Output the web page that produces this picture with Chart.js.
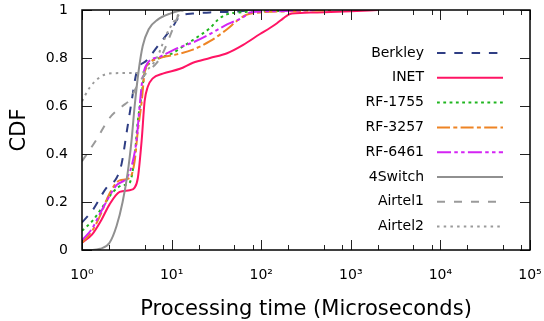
<!DOCTYPE html>
<html><head><meta charset="utf-8">
<script src="https://cdn.jsdelivr.net/npm/chart.js@4/dist/chart.umd.min.js"></script>
<style>html,body{margin:0;padding:0;background:#fff}#wrap{width:544px;height:321px}</style>
</head><body><div id="wrap"><canvas id="c" width="544" height="321"></canvas></div>
<script>
// ---- data ----
const seriesNames = ["Berkley","INET","RF-1755","RF-3257","RF-6461","4Switch","Airtel1","Airtel2"];
const xTickValues = [1,10,100,1000,10000,100000];
const xTickLabels = ["10\u2070","10\u00b9","10\u00b2","10\u00b3","10\u2074","10\u2075"];
const yTickValues = [0,0.2,0.4,0.6,0.8,1];
const yTickLabels = ["0","0.2","0.4","0.6","0.8","1"];

const berkleyX = [1,1.31,1.88,2.43,2.77,3.15,3.58,4.07,5.27,7.37,10.3,12.4,17.3,26.8,41.6,94];
const berkleyY = [0.115,0.165,0.26,0.30,0.36,0.49,0.62,0.74,0.79,0.86,0.93,0.975,0.985,0.99,0.992,1.0];

const inetX = [1,1.3,1.64,2.03,2.63,3.4,3.87,4.2,4.64,5.0,5.42,6.16,7.97,12.4,17.3,26.8,41.6,63,97,125,150,176,200,220,420,1000,2000];
const inetY = [0.03,0.065,0.124,0.19,0.242,0.249,0.26,0.30,0.46,0.62,0.68,0.715,0.735,0.755,0.78,0.80,0.82,0.855,0.90,0.925,0.945,0.965,0.98,0.985,0.99,0.995,1.0];

const rf1755X = [1,1.3,1.7,2.2,2.84,3.4,3.87,4.18,4.64,5.0,5.7,7.37,10.3,12.4,17.3,26.8,33,40,57,125,300];
const rf1755Y = [0.08,0.12,0.18,0.24,0.27,0.28,0.39,0.53,0.65,0.74,0.78,0.80,0.82,0.84,0.875,0.925,0.96,0.98,0.99,0.995,1.0];

const rf3257X = [1,1.3,1.58,2.03,2.63,3.4,3.87,4.18,4.64,5.0,5.7,7.37,11.4,17.3,26.8,41.6,53.7,68,97,228,600];
const rf3257Y = [0.03,0.08,0.14,0.235,0.29,0.30,0.37,0.49,0.62,0.74,0.78,0.80,0.815,0.835,0.87,0.92,0.955,0.98,0.99,0.995,1.0];

const rf6461X = [1,1.3,1.58,2.43,3.15,3.58,4.07,4.4,4.76,5.42,7.37,11.4,17.3,26.8,41.6,63,75,150,400];
const rf6461Y = [0.04,0.09,0.15,0.27,0.30,0.35,0.46,0.60,0.72,0.78,0.805,0.84,0.865,0.90,0.94,0.97,0.99,0.995,1.0];

const switchX = [1,1.31,1.6,2.03,2.43,2.84,3.23,3.58,3.87,4.3,4.76,5.55,7.0,9.6,14,100];
const switchY = [0,0,0.005,0.03,0.1,0.2,0.32,0.46,0.6,0.75,0.85,0.92,0.96,0.985,1.0,1.0];

const airtel1X = [1,1.45,2.03,2.84,3.4,4.07,5.27,6.83,7.97,9.55,10.8,12.4,14,100];
const airtel1Y = [0.37,0.46,0.55,0.60,0.625,0.68,0.74,0.78,0.82,0.89,0.94,0.99,1.0,1.0];

const airtel2X = [1,1.21,1.58,2.0,2.6,4.4,5.3,6.83,8.8,11.4,12.4,14,100];
const airtel2Y = [0.62,0.675,0.72,0.735,0.737,0.737,0.75,0.80,0.90,0.97,0.99,1.0,1.0];

const seriesX = [berkleyX,inetX,rf1755X,rf3257X,rf6461X,switchX,airtel1X,airtel2X];
const seriesY = [berkleyY,inetY,rf1755Y,rf3257Y,rf6461Y,switchY,airtel1Y,airtel2Y];

// ---- styles ----
const colors = ["#2f3e84","#ff1464","#1fb51f","#ee8424","#d424f4","#909090","#9a9a9a","#9a9a9a"];
const dashes = [[8.5,8.8],[],[2.8,3.5],[13,3.3,4,3.3],[14,3.3,3.5,3.3,3.5,3.3],[],[8,9],[2.5,4.2]];
const FONT = "'DejaVu Sans', sans-serif";

const datasets = seriesNames.map((name,i)=>({
  label:name,
  data: seriesX[i].map((x,j)=>({x:x,y:seriesY[i][j]})),
  borderColor:colors[i], backgroundColor:colors[i],
  borderDash:dashes[i], borderWidth:2, pointRadius:0,
  cubicInterpolationMode:'monotone', fill:false,
  order: seriesNames.length - i
}));

const frameAndTicks = {
  id:'frameAndTicks',
  afterDatasetsDraw(chart){
    const {ctx, chartArea:a, scales:{x,y}} = chart;
    ctx.save();
    ctx.strokeStyle = '#222'; ctx.lineWidth = 1; ctx.setLineDash([]);
    ctx.beginPath();
    yTickValues.forEach(v=>{
      const py = Math.round(y.getPixelForValue(v))+0.5;
      ctx.moveTo(a.left, py); ctx.lineTo(a.left+10, py);
      ctx.moveTo(a.right, py); ctx.lineTo(a.right-10, py);
    });
    xTickValues.forEach((v,k)=>{
      const px = Math.round(x.getPixelForValue(v))+0.5;
      ctx.moveTo(px, a.bottom); ctx.lineTo(px, a.bottom-10);
      ctx.moveTo(px, a.top); ctx.lineTo(px, a.top+10);
      if (k < xTickValues.length-1) {
        [2,5,8].forEach(m=>{
          const pm = Math.round(x.getPixelForValue(v*m))+0.5;
          ctx.moveTo(pm, a.bottom); ctx.lineTo(pm, a.bottom-5);
          ctx.moveTo(pm, a.top); ctx.lineTo(pm, a.top+5);
        });
      }
    });
    ctx.stroke();
    ctx.strokeStyle = '#000'; ctx.lineWidth = 1.5;
    ctx.strokeRect(a.left, a.top, a.right-a.left, a.bottom-a.top);
    ctx.restore();
  },
  afterDraw(chart){
    const ctx = chart.ctx;
    ctx.save();
    ctx.font = "14px " + FONT;
    ctx.textAlign = 'right'; ctx.textBaseline = 'middle';
    chart.data.datasets.forEach((ds,i)=>{
      const ly = 53 + i*24.8;
      ctx.fillStyle = '#000';
      ctx.fillText(ds.label, 424, ly);
      ctx.strokeStyle = ds.borderColor; ctx.lineWidth = 2;
      ctx.setLineDash(ds.borderDash);
      ctx.beginPath(); ctx.moveTo(437, ly); ctx.lineTo(503, ly); ctx.stroke();
    });
    ctx.restore();
  }
};

new Chart(document.getElementById('c'), {
  type:'line',
  data:{datasets},
  options:{
    responsive:false, animation:false, devicePixelRatio:1,
    layout:{padding:{top:10,right:14,left:0,bottom:0}},
    plugins:{legend:{display:false}, tooltip:{enabled:false}},
    scales:{
      x:{
        type:'logarithmic', position:'bottom', min:1, max:100000,
        grid:{display:false, drawTicks:false}, border:{display:false},
        afterBuildTicks:(s)=>{ s.ticks = xTickValues.map(v=>({value:v})); },
        afterFit:(s)=>{ s.height = 71; s.paddingLeft = 0; s.paddingRight = 0; },
        ticks:{autoSkip:false, maxRotation:0, padding:17, color:'#000',
          font:{family:FONT, size:14},
          callback:(v)=>{ const k = xTickValues.indexOf(v); return k>=0 ? xTickLabels[k] : ''; }},
        title:{display:true, text:'Processing time (Microseconds)', color:'#000',
          font:{family:FONT, size:21, lineHeight:1.1}, padding:{top:0,bottom:0}}
      },
      y:{
        type:'linear', min:0, max:1,
        grid:{display:false, drawTicks:false}, border:{display:false},
        afterBuildTicks:(s)=>{ s.ticks = yTickValues.map(v=>({value:v})); },
        afterFit:(s)=>{ s.width = 82; s.paddingTop = 0; s.paddingBottom = 0; },
        ticks:{padding:14, color:'#000', font:{family:FONT, size:14},
          callback:(v)=>{ const k = yTickValues.indexOf(v); return k>=0 ? yTickLabels[k] : ''; }},
        title:{display:true, text:'CDF', color:'#000',
          font:{family:FONT, size:21, lineHeight:1.1}, padding:{top:8,bottom:0}}
      }
    }
  },
  plugins:[frameAndTicks]
});
</script></body></html>
